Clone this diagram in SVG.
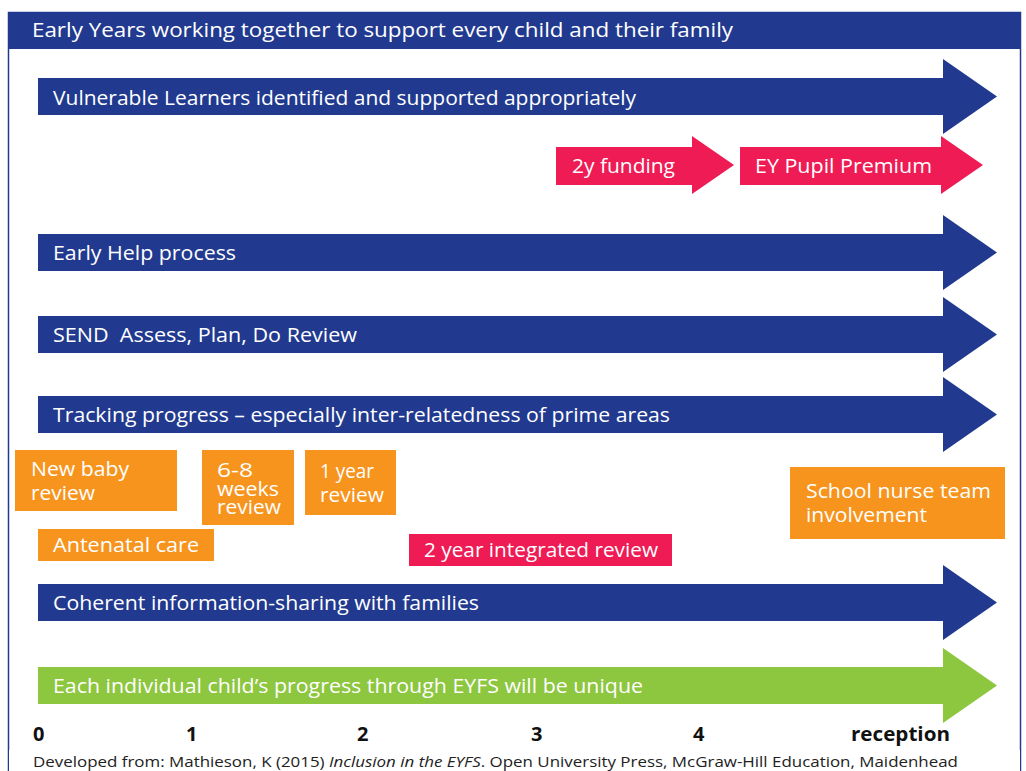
<svg xmlns="http://www.w3.org/2000/svg" width="1026" height="771" viewBox="0 0 1026 771">
  <style>
    text { font-family: "Open Sans", "Liberation Sans", sans-serif; }
    .lbl { fill: #ffffff; font-size: 20px; }
    .blue { fill: #213a8f; }
    .pink { fill: #ee1b54; }
    .orange { fill: #f7941e; }
    .green { fill: #8dc63f; }
    .axis { fill: #111111; font-size: 20px; font-weight: bold; }
    .note { fill: #222222; font-size: 15px; }
  </style>
  <defs>
    <!-- long band arrow: body 38..943, head to 997 -->
    <path id="band" d="M38,0 H943 V-19 L997,18.5 L943,56 V37 H38 Z"/>
  </defs>

  <!-- frame and title bar -->
  <g id="frame">
    <rect x="8.5" y="12.5" width="1012" height="770" fill="#ffffff" stroke="#213a8f" stroke-width="1.5"/>
    <rect x="8" y="12" width="1013" height="37" class="blue"/>
    <text x="32" y="37" fill="#ffffff" font-size="20" textLength="701" lengthAdjust="spacingAndGlyphs">Early Years working together to support every child and their family</text>
  </g>

  <g id="connectors">
    <g id="vulnerable">
      <use href="#band" y="78" class="blue"/>
      <text x="53" y="105" class="lbl" textLength="583" lengthAdjust="spacingAndGlyphs">Vulnerable Learners identified and supported appropriately</text>
    </g>
    <g id="funding-2y">
      <path d="M556,147 H692 V136 L734,165 L692,194 V185 H556 Z" class="pink"/>
      <text x="572" y="173" class="lbl" textLength="103" lengthAdjust="spacingAndGlyphs">2y funding</text>
    </g>
    <g id="pupil-premium">
      <path d="M740,147 H941 V136 L983,165 L941,194 V185 H740 Z" class="pink"/>
      <text x="755" y="173" class="lbl" textLength="177" lengthAdjust="spacingAndGlyphs">EY Pupil Premium</text>
    </g>
    <g id="early-help">
      <use href="#band" y="234" class="blue"/>
      <text x="53" y="260" class="lbl" textLength="183" lengthAdjust="spacingAndGlyphs">Early Help process</text>
    </g>
    <g id="send">
      <use href="#band" y="316" class="blue"/>
      <text x="53" y="342" class="lbl" xml:space="preserve" textLength="304" lengthAdjust="spacingAndGlyphs">SEND  Assess, Plan, Do Review</text>
    </g>
    <g id="tracking">
      <use href="#band" y="396" class="blue"/>
      <text x="53" y="422" class="lbl" textLength="617" lengthAdjust="spacingAndGlyphs">Tracking progress – especially inter-relatedness of prime areas</text>
    </g>
    <g id="info-sharing">
      <use href="#band" y="584" class="blue"/>
      <text x="53" y="610" class="lbl" textLength="426" lengthAdjust="spacingAndGlyphs">Coherent information-sharing with families</text>
    </g>
    <g id="unique-progress">
      <use href="#band" y="667" class="green"/>
      <text x="53" y="693" class="lbl" textLength="590" lengthAdjust="spacingAndGlyphs">Each individual child’s progress through EYFS will be unique</text>
    </g>
  </g>

  <!-- health visiting milestones -->
  <g id="new-baby-review">
    <rect x="15" y="450" width="162" height="61" class="orange"/>
    <text class="lbl"><tspan x="31" y="476" textLength="98" lengthAdjust="spacingAndGlyphs">New baby</tspan><tspan x="31" y="500" textLength="64" lengthAdjust="spacingAndGlyphs">review</tspan></text>
  </g>
  <g id="weeks-review">
    <rect x="202" y="450" width="92" height="75" class="orange"/>
    <text class="lbl" font-size="19"><tspan x="217" y="477" textLength="36" lengthAdjust="spacingAndGlyphs">6-8</tspan><tspan x="217" y="496" textLength="62" lengthAdjust="spacingAndGlyphs">weeks</tspan><tspan x="217" y="514" textLength="64" lengthAdjust="spacingAndGlyphs">review</tspan></text>
  </g>
  <g id="year-review">
    <rect x="305" y="450" width="91" height="65" class="orange"/>
    <text class="lbl"><tspan x="320" y="478" textLength="54" lengthAdjust="spacingAndGlyphs">1 year</tspan><tspan x="320" y="502" textLength="64" lengthAdjust="spacingAndGlyphs">review</tspan></text>
  </g>
  <g id="antenatal">
    <rect x="38" y="529" width="176" height="32" class="orange"/>
    <text x="53" y="552" class="lbl" textLength="146" lengthAdjust="spacingAndGlyphs">Antenatal care</text>
  </g>
  <g id="integrated-review">
    <rect x="409" y="534" width="263" height="32" class="pink"/>
    <text x="424" y="557" class="lbl" textLength="234" lengthAdjust="spacingAndGlyphs">2 year integrated review</text>
  </g>
  <g id="school-nurse">
    <rect x="790" y="467" width="215" height="72" class="orange"/>
    <text class="lbl"><tspan x="806" y="498" textLength="185" lengthAdjust="spacingAndGlyphs">School nurse team</tspan><tspan x="806" y="522" textLength="121" lengthAdjust="spacingAndGlyphs">involvement</tspan></text>
  </g>

  <!-- age scale -->
  <g id="axis">
    <text x="33" y="741" class="axis">0</text>
    <text x="186" y="741" class="axis">1</text>
    <text x="357" y="741" class="axis">2</text>
    <text x="531" y="741" class="axis">3</text>
    <text x="693" y="741" class="axis">4</text>
    <text x="851" y="741" class="axis" textLength="99" lengthAdjust="spacingAndGlyphs">reception</text>
  </g>

  <g id="source">
    <rect x="9" y="750" width="1011" height="21" fill="#ffffff"/>
    <text x="33" y="767" class="note" textLength="925" lengthAdjust="spacingAndGlyphs">Developed from: Mathieson, K (2015) <tspan font-style="italic">Inclusion in the EYFS</tspan>. Open University Press, McGraw-Hill Education, Maidenhead</text>
  </g>
</svg>
